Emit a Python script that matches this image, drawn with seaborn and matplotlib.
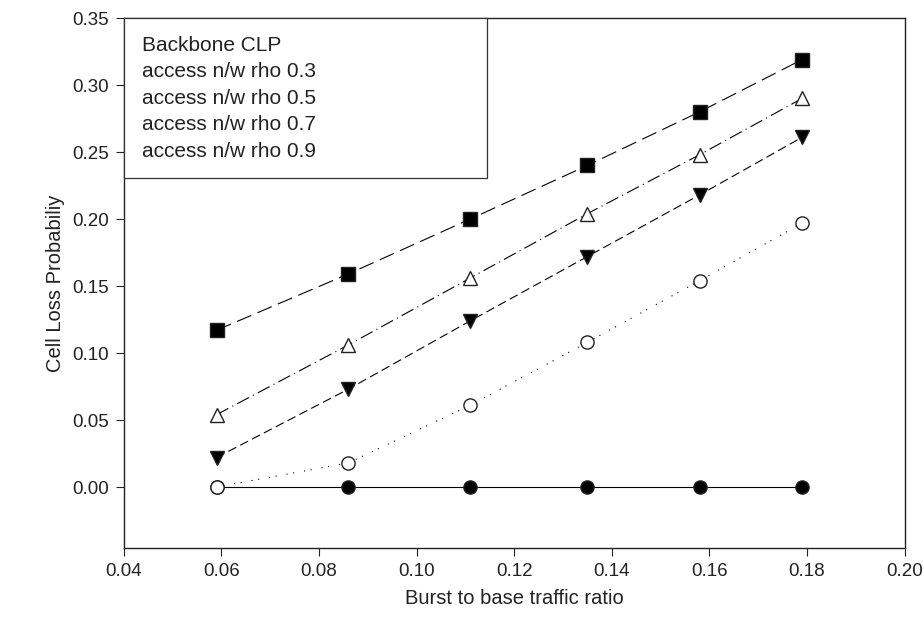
import matplotlib
matplotlib.use("Agg")
import matplotlib.pyplot as plt
import seaborn as sns
import pandas as pd

# burst to base traffic ratio
ratio = [0.059, 0.086, 0.111, 0.135, 0.158, 0.179]

backbone = [0.000, 0.000, 0.000, 0.000, 0.000, 0.000]
rho_03 = [0.000, 0.018, 0.061, 0.108, 0.154, 0.197]
rho_05 = [0.022, 0.073, 0.124, 0.172, 0.218, 0.261]
rho_07 = [0.054, 0.106, 0.156, 0.204, 0.248, 0.290]
rho_09 = [0.117, 0.159, 0.200, 0.240, 0.280, 0.319]

labels = ["Backbone CLP", "access n/w rho 0.3", "access n/w rho 0.5",
          "access n/w rho 0.7", "access n/w rho 0.9"]
x_ticks = [0.04, 0.06, 0.08, 0.10, 0.12, 0.14, 0.16, 0.18, 0.20]
y_ticks = [0.00, 0.05, 0.10, 0.15, 0.20, 0.25, 0.30, 0.35]

sns.set_style("ticks")
plt.rcParams["font.family"] = ["Liberation Sans", "DejaVu Sans"]

fig = plt.figure(figsize=(9.24, 6.22), dpi=100)
ax = fig.add_axes([0.134, 0.119, 0.845, 0.852])

# style per series: marker, face colour, dash pattern
styles = [
    ("o", "black", "-"),
    ("o", "white", (0, (1, 5, 1, 9))),
    ("v", "black", (0, (8, 4))),
    ("^", "white", (0, (12, 4, 1, 4))),
    ("s", "black", (0, (14, 6))),
]
series = [backbone, rho_03, rho_05, rho_07, rho_09]

for vals, lab, (mk, fc, ls) in zip(series, labels, styles):
    df = pd.DataFrame({"x": ratio, "y": vals})
    sns.lineplot(data=df, x="x", y="y", ax=ax, color="black", linewidth=0.8,
                 linestyle=ls, marker=mk, markersize=9.5, markerfacecolor=fc,
                 markeredgecolor="#222222", markeredgewidth=1.0, label=lab)

ax.set_xlim(0.04, 0.20)
ax.set_ylim(-0.0455, 0.35)
ax.set_xticks(x_ticks)
ax.set_yticks(y_ticks)
ax.set_xticklabels([f"{t:.2f}" for t in x_ticks])
ax.set_yticklabels([f"{t:.2f}" for t in y_ticks])
ax.tick_params(direction="out", length=6, width=0.8, labelsize=13.5,
               colors="#222222", pad=5)
for sp in ax.spines.values():
    sp.set_linewidth(1.0)
    sp.set_color("#222222")

ax.set_xlabel("Burst to base traffic ratio", fontsize=14.5, color="#222222", labelpad=6)
ax.set_ylabel("Cell Loss Probabiliy", fontsize=14.5, color="#222222", labelpad=5)

# legend box shows only the text; invisible handles sit to the right
leg = ax.legend(loc="upper left", borderaxespad=0, markerfirst=False,
                handlelength=7.0, handletextpad=0.4, fancybox=False, framealpha=1,
                edgecolor="#333333", fontsize=15, labelspacing=0.36, borderpad=0.85)
leg.get_frame().set_linewidth(0.9)
for h in leg.legend_handles:
    h.set_visible(False)
for t in leg.get_texts():
    t.set_color("#222222")
# left-align the text rows inside the column
for col in leg._legend_handle_box.get_children():
    col.align = "left"

fig.savefig("out.png", dpi=100)
